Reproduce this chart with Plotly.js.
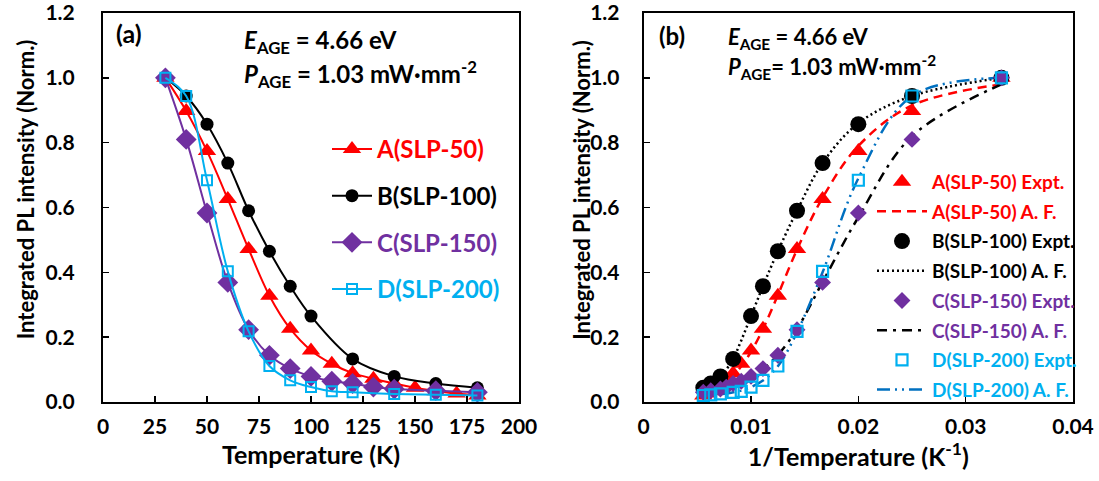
<!DOCTYPE html>
<html>
<head>
<meta charset="utf-8">
<script src="https://cdn.plot.ly/plotly-3.0.1.min.js"></script>
<style>html,body{margin:0;padding:0;background:#fff;}#chart{width:1099px;height:481px;}</style>
</head>
<body>
<div id="chart"></div>
<script>
// ---------- data ----------
const tempsA = [30,40,50,60,70,80,90,100,110,120,130,140,150,160,170,180];
const valsA  = [1.0,0.898,0.774,0.626,0.472,0.328,0.226,0.159,0.118,0.089,0.072,0.057,0.044,0.033,0.026,0.02];
const tempsB = [30,40,50,60,70,80,90,100,120,140,160,180];
const valsB  = [1.0,0.944,0.857,0.737,0.590,0.465,0.357,0.265,0.133,0.079,0.057,0.044];
const tempsC = [30,40,50,60,70,80,90,100,110,120,130,140,160,180];
const valsC  = [1.0,0.810,0.583,0.369,0.223,0.144,0.103,0.079,0.064,0.057,0.046,0.040,0.035,0.030];
const tempsD = [30,40,50,60,70,80,90,100,110,120,140,160,180];
const valsD  = [1.0,0.944,0.684,0.403,0.218,0.111,0.067,0.046,0.033,0.030,0.025,0.022,0.020];

// fitted (A. F.) curves, read at the measurement temperatures
const tempsFit = [30,40,50,60,70,80,90,100,110,120,130,140,150,160,170,180];
const fitA = [0.98,0.915,0.79,0.63,0.47,0.33,0.225,0.155,0.11,0.08,0.062,0.05,0.041,0.035,0.03,0.027];
const fitB = [1.0,0.944,0.86,0.737,0.59,0.465,0.357,0.265,0.19,0.133,0.1,0.079,0.066,0.057,0.05,0.044];
const fitC = [0.98,0.82,0.57,0.37,0.225,0.145,0.102,0.08,0.066,0.057,0.05,0.045,0.042,0.04,0.038,0.036];
const fitD = [1.0,0.944,0.69,0.40,0.215,0.11,0.066,0.046,0.035,0.03,0.026,0.024,0.022,0.021,0.02,0.02];

const namesLeft  = ['A(SLP-50)','B(SLP-100)','C(SLP-150)','D(SLP-200)'];
const namesExpt  = ['A(SLP-50) Expt.','B(SLP-100) Expt.','C(SLP-150) Expt.','D(SLP-200) Expt.'];
const namesFit   = ['A(SLP-50) A. F.','B(SLP-100) A. F.','C(SLP-150) A. F.','D(SLP-200) A. F.'];
const yTitleText = 'Integrated PL intensity (Norm.)';

// ---------- styles ----------
const colRed = '#FF0000', colBlack = '#000000', colPurple = '#7030A0', colCyan = '#00B0F0', colBlue = '#0070C0';
const textCols = [colRed, colBlack, colPurple, colCyan];
const lineCols = [colRed, colBlack, colPurple, colCyan];
const fitCols  = [colRed, colBlack, colBlack, colBlue];
const fitDash  = ['9px,6px', '2px,3px', '10px,6px,3px,6px', '13px,5px,2px,5px,2px,5px'];
const symbols  = ['triangle-up','circle','diamond','square-open'];
const sizesL   = [16,13,16,10];
const sizesR   = [16,16,13,11];
const FONT = 'Lato, "Open Sans", sans-serif';

const temps = [tempsA,tempsB,tempsC,tempsD];
const vals  = [valsA,valsB,valsC,valsD];
const fits  = [fitA,fitB,fitC,fitD];
const inv = a => a.map(t => 1/t);
const colored = (s,c) => '<span style="color:' + c + '">' + s + '</span>';

const traces = [];
// left panel
for (let i = 0; i < 4; i++) {
  traces.push({
    x: temps[i], y: vals[i], xaxis: 'x', yaxis: 'y',
    type: 'scatter', mode: 'lines+markers',
    name: colored(namesLeft[i], textCols[i]),
    legend: 'legend', legendgroup: 'L' + i,
    line: {color: lineCols[i], width: 2, shape: 'spline', smoothing: 1},
    marker: {symbol: symbols[i], size: sizesL[i], color: lineCols[i],
             line: {color: lineCols[i], width: i === 3 ? 2 : 0}}
  });
}
// right panel
for (let i = 0; i < 4; i++) {
  traces.push({
    x: inv(tempsFit), y: fits[i], xaxis: 'x2', yaxis: 'y2',
    type: 'scatter', mode: 'lines',
    name: colored(namesFit[i], textCols[i]),
    legend: 'legend2', legendgroup: 'F' + i, legendrank: 2*i + 2,
    line: {color: fitCols[i], width: 2.5, dash: fitDash[i], shape: 'spline', smoothing: 1}
  });
}
for (let i = 0; i < 4; i++) {
  traces.push({
    x: inv(temps[i]), y: vals[i], xaxis: 'x2', yaxis: 'y2',
    type: 'scatter', mode: 'markers',
    name: colored(namesExpt[i], textCols[i]),
    legend: 'legend2', legendgroup: 'E' + i, legendrank: 2*i + 1,
    marker: {symbol: symbols[i], size: sizesR[i], color: lineCols[i],
             line: {color: lineCols[i], width: i === 3 ? 2.2 : 0}}
  });
}

// ---------- layout ----------
const W = 1099, H = 481;
const mL = 103, mR = 26, mT = 13, mB = 78.5;
const PW = W - mL - mR, PH = H - mT - mB;
const px = v => (v - mL) / PW;
const py = v => (H - mB - v) / PH;

const tickFont = {family: FONT, size: 21, color: '#000', weight: 'bold'};
const xTitleFont = {family: FONT, size: 25, color: '#000', weight: 'bold'};
const yTitleFont = {family: FONT, size: 22, color: '#000', weight: 'bold'};

const axisBase = {
  showline: true, linecolor: '#000', linewidth: 2, mirror: true,
  showgrid: false, zeroline: false,
  ticks: 'inside', ticklen: 6, tickwidth: 1.5, tickcolor: '#000',
  tickfont: tickFont, ticklabeloverflow: 'allow'
};

const annFontL = {family: FONT, size: 24, color: '#000'};
const annFontR = {family: FONT, size: 22, color: '#000'};
const ann = (text, x, y, font, extra) => Object.assign({
  text: text, x: px(x), y: py(y), xref: 'paper', yref: 'paper',
  xanchor: 'left', yanchor: 'middle', showarrow: false, font: font
}, extra || {});
const annotations = [
  ann('<b>(a)</b>', 114, 33, {family: FONT, size: 25, color: '#000'}),
  ann('<b><i>E</i><sub>AGE</sub> = 4.66 eV</b>', 242, 42, annFontL),
  ann('<b><i>P</i><sub>AGE</sub> = 1.03 mW·mm<sup>-2</sup></b>', 242, 74, annFontL),
  ann('<b>(b)</b>', 657, 36, {family: FONT, size: 24, color: '#000'}),
  ann('<b><i>E</i><sub>AGE</sub> = 4.66 eV</b>', 726, 38, annFontR),
  ann('<b><i>P</i><sub>AGE</sub>= 1.03 mW·mm<sup>-2</sup></b>', 726, 67, annFontR),
  ann(yTitleText, 25.5, 190, yTitleFont, {xanchor: 'center', textangle: -90}),
  ann(yTitleText, 582, 190, yTitleFont, {xanchor: 'center', textangle: -90})
];

const layout = {
  width: W, height: H,
  margin: {l: mL, r: mR, t: mT, b: mB},
  paper_bgcolor: '#fff', plot_bgcolor: '#fff',
  font: {family: FONT, color: '#000'},
  showlegend: true,
  xaxis: Object.assign({}, axisBase, {
    domain: [0, px(519)], range: [0, 200], dtick: 25, tick0: 0,
    ticklabelstandoff: 5,
    title: {text: 'Temperature (K)', font: xTitleFont, standoff: 9}
  }),
  yaxis: Object.assign({}, axisBase, {
    domain: [0, 1], range: [0, 1.2], dtick: 0.2, tickformat: '.1f',
    ticklabelstandoff: 22
  }),
  xaxis2: Object.assign({}, axisBase, {
    domain: [px(643.7), 1], range: [0, 0.04], dtick: 0.01, tick0: 0,
    anchor: 'y2', ticklabelstandoff: 5,
    title: {text: '1/Temperature (K<sup>-1</sup>)', font: xTitleFont, standoff: 9}
  }),
  yaxis2: Object.assign({}, axisBase, {
    domain: [0, 1], range: [0, 1.2], dtick: 0.2, tickformat: '.1f',
    anchor: 'x2', ticklabelstandoff: 18
  }),
  legend: {
    x: px(327), y: py(127), xanchor: 'left', yanchor: 'top',
    bgcolor: 'rgba(0,0,0,0)', borderwidth: 0,
    font: {family: FONT, size: 24, weight: 'bold'},
    traceorder: 'grouped', tracegroupgap: 12.5, itemwidth: 40
  },
  legend2: {
    x: px(872), y: py(163), xanchor: 'left', yanchor: 'top',
    bgcolor: 'rgba(0,0,0,0)', borderwidth: 0,
    font: {family: FONT, size: 19, weight: 'bold'},
    traceorder: 'grouped', tracegroupgap: 2, itemwidth: 50
  },
  annotations: annotations
};

Plotly.newPlot('chart', traces, layout, {displayModeBar: false, staticPlot: true});
</script>
</body>
</html>
